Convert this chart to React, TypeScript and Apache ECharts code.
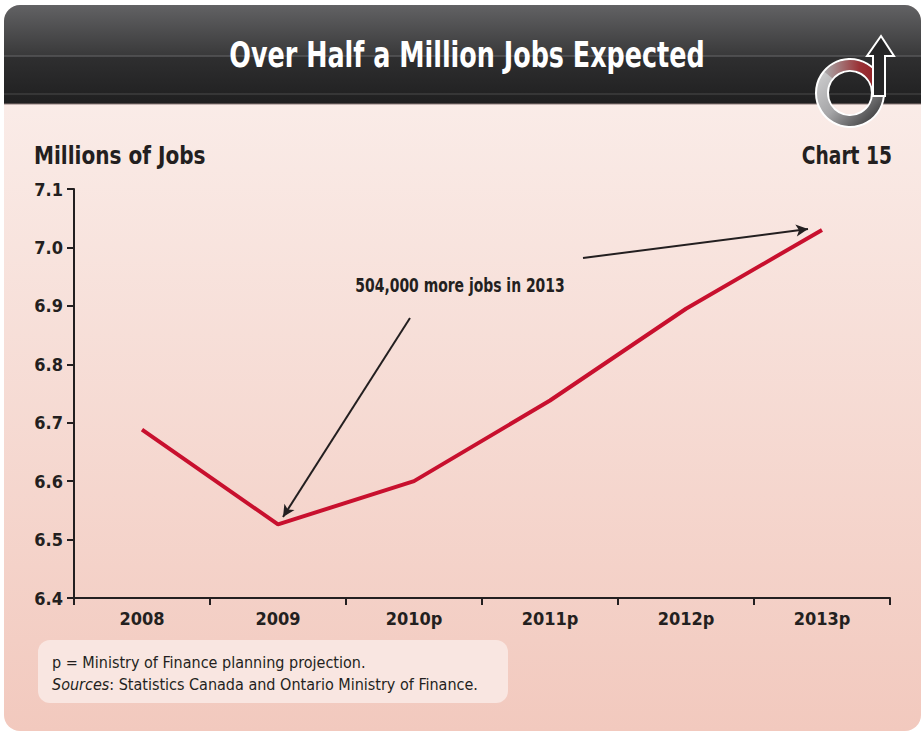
import React, { useEffect, useRef } from "react";
import * as echarts from "echarts";

const categories = ["2008", "2009", "2010p", "2011p", "2012p", "2013p"];
const jobs = [6.688, 6.526, 6.6, 6.738, 6.895, 7.03];
const yMin = 6.4;
const yMax = 7.1;
const yStep = 0.1;

const titleText = "Over Half a Million Jobs Expected";
const yTitle = "Millions of Jobs";
const chartNo = "Chart 15";
const annotation = "504,000 more jobs in 2013";
const noteLine1 = "p = Ministry of Finance planning projection.";
const noteSources = "Sources";
const noteLine2 = ": Statistics Canada and Ontario Ministry of Finance.";

const COND = '"Liberation Sans Narrow", "DejaVu Sans Condensed", "Roboto Condensed", Arial, sans-serif';
const INK = "#231f20";

export default function App() {
  const ref = useRef<HTMLDivElement>(null);
  useEffect(() => {
    document.body.style.margin = "0";
    const chart = echarts.init(ref.current!, null, { renderer: "svg" });
    const option: any = {
      animation: false,
      backgroundColor: "#ffffff",
      grid: { left: 74, right: 33, top: 189, bottom: 135, containLabel: false },
      xAxis: {
        type: "category",
        data: categories,
        boundaryGap: true,
        axisLine: { lineStyle: { color: INK, width: 2 } },
        axisTick: { show: true, length: 7, lineStyle: { color: INK, width: 2 } },
        axisLabel: { color: INK, fontFamily: COND, fontWeight: "bold", fontSize: 18, margin: 11 },
        splitLine: { show: false },
      },
      yAxis: {
        type: "value",
        min: yMin,
        max: yMax,
        interval: yStep,
        axisLine: { show: true, lineStyle: { color: INK, width: 2 } },
        axisTick: { show: true, length: 7, lineStyle: { color: INK, width: 2 } },
        axisLabel: {
          color: INK,
          fontFamily: COND,
          fontWeight: "bold",
          fontSize: 18,
          margin: 11,
          formatter: (v: number) => v.toFixed(1),
        },
        splitLine: { show: false },
      },
      series: [
        {
          type: "line",
          data: jobs,
          symbol: "none",
          lineStyle: { color: "#c8102e", width: 4 },
          z: 3,
          markLine: {
            silent: true,
            symbol: ["none", "arrow"],
            symbolSize: [9, 12],
            label: { show: false },
            lineStyle: { color: INK, width: 2, type: "solid" },
            data: [
              [{ x: 410, y: 318 }, { x: 283, y: 517 }],
              [{ x: 583, y: 258 }, { x: 808, y: 229 }],
            ],
          },
        },
      ],
      graphic: [
        {
          type: "rect",
          z: -10,
          silent: true,
          shape: { x: 4, y: 5, width: 917, height: 726, r: 16 },
          style: {
            fill: new echarts.graphic.LinearGradient(0, 0, 0, 1, [
              { offset: 0, color: "#fbf1ee" },
              { offset: 1, color: "#f2c9be" },
            ]),
          },
        },
        {
          type: "rect",
          z: -9,
          silent: true,
          shape: { x: 4, y: 5, width: 917, height: 99, r: [16, 16, 0, 0] },
          style: {
            fill: new echarts.graphic.LinearGradient(0, 0, 0, 1, [
              { offset: 0, color: "#626264" },
              { offset: 0.5, color: "#3a3a3b" },
              { offset: 0.52, color: "#2f2f30" },
              { offset: 1, color: "#1f1f20" },
            ]),
          },
        },
        {
          type: "line",
          z: -8,
          silent: true,
          shape: { x1: 4, y1: 56, x2: 921, y2: 56 },
          style: { stroke: "#6b6b6d", lineWidth: 1 },
        },
        {
          type: "line",
          z: -8,
          silent: true,
          shape: { x1: 4, y1: 94, x2: 921, y2: 94 },
          style: { stroke: "#4a4a4b", lineWidth: 1 },
        },
        {
          type: "line",
          z: -8,
          silent: true,
          shape: { x1: 4, y1: 104, x2: 921, y2: 104 },
          style: { stroke: "#8c7a78", lineWidth: 1 },
        },
        {
          type: "text",
          silent: true,
          x: 467,
          y: 55,
          scaleX: 0.785,
          style: {
            text: titleText,
            fill: "#ffffff",
            font: `bold 36px ${COND}`,
            textAlign: "center",
            textVerticalAlign: "middle",
          },
        },
        // logo
        {
          type: "ring",
          silent: true,
          z: 5,
          shape: { cx: 850, cy: 93, r: 34, r0: 22 },
          style: {
            fill: new echarts.graphic.LinearGradient(0, 0, 1, 1, [
              { offset: 0, color: "#d9d9da" },
              { offset: 0.5, color: "#a5a5a7" },
              { offset: 1, color: "#222223" },
            ]),
            stroke: "#ffffff",
            lineWidth: 2,
          },
        },
        {
          type: "sector",
          silent: true,
          z: 6,
          shape: { cx: 850, cy: 93, r: 33, r0: 23, startAngle: -Math.PI * 0.78, endAngle: -Math.PI * 0.05, clockwise: true },
          style: {
            fill: new echarts.graphic.LinearGradient(0, 0, 1, 0, [
              { offset: 0, color: "#a9a9aa" },
              { offset: 0.6, color: "#9a3236" },
              { offset: 1, color: "#8e1b22" },
            ]),
          },
        },
        {
          type: "rect",
          silent: true,
          z: 7,
          shape: { x: 873, y: 54, width: 12, height: 42 },
          style: { fill: "#262627", stroke: "#ffffff", lineWidth: 2 },
        },
        {
          type: "polygon",
          silent: true,
          z: 8,
          shape: { points: [[881, 36], [894, 56], [867, 56]] },
          style: { fill: "#262627", stroke: "#ffffff", lineWidth: 2 },
        },
        {
          type: "rect",
          silent: true,
          z: 9,
          shape: { x: 874, y: 55, width: 10, height: 40 },
          style: { fill: "#262627" },
        },
        {
          type: "text",
          silent: true,
          x: 34,
          y: 155,
          scaleX: 0.93,
          style: {
            text: yTitle,
            fill: INK,
            font: `bold 24px ${COND}`,
            textAlign: "left",
            textVerticalAlign: "middle",
          },
        },
        {
          type: "text",
          silent: true,
          x: 892,
          y: 155,
          scaleX: 0.865,
          style: {
            text: chartNo,
            fill: INK,
            font: `bold 24px ${COND}`,
            textAlign: "right",
            textVerticalAlign: "middle",
          },
        },
        {
          type: "text",
          silent: true,
          x: 460,
          y: 285,
          scaleX: 0.775,
          style: {
            text: annotation,
            fill: INK,
            font: `bold 20px ${COND}`,
            textAlign: "center",
            textVerticalAlign: "middle",
          },
        },
        {
          type: "rect",
          silent: true,
          z: -5,
          shape: { x: 38, y: 640, width: 470, height: 63, r: 12 },
          style: { fill: "#f9e6e1" },
        },
        {
          type: "text",
          silent: true,
          x: 52,
          y: 662,
          style: {
            text: noteLine1,
            fill: INK,
            font: `16px ${COND}`,
            textAlign: "left",
            textVerticalAlign: "middle",
          },
        },
        {
          type: "text",
          silent: true,
          x: 52,
          y: 684,
          style: {
            text: `{i|${noteSources}}${noteLine2}`,
            fill: INK,
            font: `16px ${COND}`,
            textAlign: "left",
            textVerticalAlign: "middle",
            rich: {
              i: { fontStyle: "italic", fontFamily: COND, fontSize: 16, fill: INK },
            },
          },
        },
      ],
    };
    chart.setOption(option);
    return () => chart.dispose();
  }, []);
  return <div ref={ref} style={{ width: 923, height: 733 }} />;
}
